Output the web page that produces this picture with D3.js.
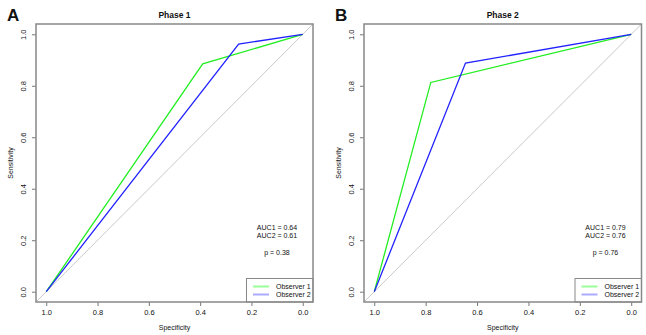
<!DOCTYPE html>
<html>
<head>
<meta charset="utf-8">
<script src="https://cdn.jsdelivr.net/npm/d3@7"></script>
<style>
  body { margin: 0; background: #fff; }
  text { font-family: "Liberation Sans", Arial, sans-serif; fill: #111; }
</style>
</head>
<body>
<div id="chart"></div>
<script>
// ROC curves, two observers per phase
var panelLetters = ["A", "B"];
var phaseTitles = ["Phase 1", "Phase 2"];
var specTicks = [1.0, 0.8, 0.6, 0.4, 0.2, 0.0];
var sensTicks = [0.0, 0.2, 0.4, 0.6, 0.8, 1.0];
var observers = ["Observer 1", "Observer 2"];

// specificity / sensitivity pairs for each curve
var phase1Obs1 = [[1, 0], [0.39, 0.885], [0, 1]];
var phase1Obs2 = [[1, 0], [0.25, 0.962], [0, 1]];
var phase2Obs1 = [[1, 0], [0.78, 0.813], [0, 1]];
var phase2Obs2 = [[1, 0], [0.645, 0.888], [0, 1]];

var auc1 = [0.64, 0.79];
var auc2 = [0.61, 0.76];
var pValues = [0.38, 0.76];

var curves = [[phase1Obs1, phase1Obs2], [phase2Obs1, phase2Obs2]];
var lineColors = ["#22ee22", "#2222ff"];
var legendColors = ["#99ff99", "#aaaaff"];

var W = 646, H = 335;
var svg = d3.select("#chart").append("svg")
  .attr("width", W)
  .attr("height", H);

// plot boxes (left, right) for each panel
var boxes = [{x0: 36, x1: 313}, {x0: 364, x1: 641.5}];
var boxTop = 24, boxBottom = 302;

boxes.forEach(function(b, i) {
  var g = svg.append("g");

  var x = d3.scaleLinear().domain([1.04, -0.04]).range([b.x0, b.x1]);
  var y = d3.scaleLinear().domain([-0.04, 1.04]).range([boxBottom, boxTop]);

  // chance diagonal
  g.append("line")
    .attr("x1", x(1.04)).attr("y1", y(-0.04))
    .attr("x2", x(-0.04)).attr("y2", y(1.04))
    .attr("stroke", "#bbb")
    .attr("stroke-width", 0.8);

  var line = d3.line()
    .x(function(d) { return x(d[0]); })
    .y(function(d) { return y(d[1]); });

  curves[i].forEach(function(c, j) {
    g.append("path")
      .attr("d", line(c))
      .attr("fill", "none")
      .attr("stroke", lineColors[j])
      .attr("stroke-width", 1.3);
  });

  // axes
  var xAxis = d3.axisBottom(x).tickValues(specTicks)
    .tickFormat(d3.format(".1f")).tickSize(4).tickPadding(4);
  var gx = g.append("g")
    .attr("transform", "translate(0," + boxBottom + ")")
    .call(xAxis);
  gx.select(".domain").remove();
  gx.selectAll("line").attr("stroke", "#777");
  gx.selectAll("text").attr("font-size", 7.5).attr("fill", "#111")
    .attr("font-family", "Liberation Sans, Arial, sans-serif");

  var yAxis = d3.axisLeft(y).tickValues(sensTicks)
    .tickFormat(d3.format(".1f")).tickSize(4).tickPadding(0);
  var gy = g.append("g")
    .attr("transform", "translate(" + b.x0 + ",0)")
    .call(yAxis);
  gy.select(".domain").remove();
  gy.selectAll("line").attr("stroke", "#777");
  gy.selectAll("text")
    .attr("font-size", 7.5).attr("fill", "#111")
    .attr("font-family", "Liberation Sans, Arial, sans-serif")
    .attr("x", null).attr("dy", null)
    .attr("text-anchor", "middle")
    .attr("transform", "translate(-10,0) rotate(-90)");

  var cx = (b.x0 + b.x1) / 2;
  g.append("text")
    .attr("x", cx).attr("y", 18)
    .attr("text-anchor", "middle")
    .attr("font-size", 8.5).attr("font-weight", "bold")
    .text(phaseTitles[i]);

  g.append("text")
    .attr("x", b.x0 - 29).attr("y", 21)
    .attr("font-size", 17).attr("font-weight", "bold")
    .text(panelLetters[i]);

  g.append("text")
    .attr("x", cx).attr("y", 330)
    .attr("text-anchor", "middle")
    .attr("font-size", 7)
    .text("Specificity");

  g.append("text")
    .attr("transform", "translate(" + (b.x0 - 23) + "," + ((boxTop + boxBottom) / 2) + ") rotate(-90)")
    .attr("text-anchor", "middle")
    .attr("font-size", 7)
    .text("Sensitivity");

  // AUC and p-value annotation
  var ax = b.x1 - 36;
  var stats = ["AUC1 = " + auc1[i].toFixed(2), "AUC2 = " + auc2[i].toFixed(2)];
  stats.forEach(function(s, k) {
    g.append("text")
      .attr("x", ax).attr("y", 230 + k * 8)
      .attr("text-anchor", "middle")
      .attr("font-size", 7)
      .text(s);
  });
  g.append("text")
    .attr("x", ax).attr("y", 254.5)
    .attr("text-anchor", "middle")
    .attr("font-size", 7)
    .text("p = " + pValues[i].toFixed(2));

  // legend
  var lx = b.x1 - 66.5, ly = 278.5;
  g.append("rect")
    .attr("x", lx).attr("y", ly)
    .attr("width", b.x1 - lx).attr("height", boxBottom - ly)
    .attr("fill", "#fff")
    .attr("stroke", "#888")
    .attr("stroke-width", 1);
  observers.forEach(function(o, k) {
    var yy = ly + 8 + k * 8;
    g.append("line")
      .attr("x1", lx + 6.5).attr("x2", lx + 22.5)
      .attr("y1", yy).attr("y2", yy)
      .attr("stroke", legendColors[k])
      .attr("stroke-width", 2);
    g.append("text")
      .attr("x", lx + 29.5).attr("y", yy + 2.5)
      .attr("font-size", 7)
      .text(o);
  });

  // frame, drawn last so it sits over the legend box edge
  g.append("rect")
    .attr("x", b.x0).attr("y", boxTop)
    .attr("width", b.x1 - b.x0).attr("height", boxBottom - boxTop)
    .attr("fill", "none")
    .attr("stroke", "#888")
    .attr("stroke-width", 1.5);
});
</script>
</body>
</html>
